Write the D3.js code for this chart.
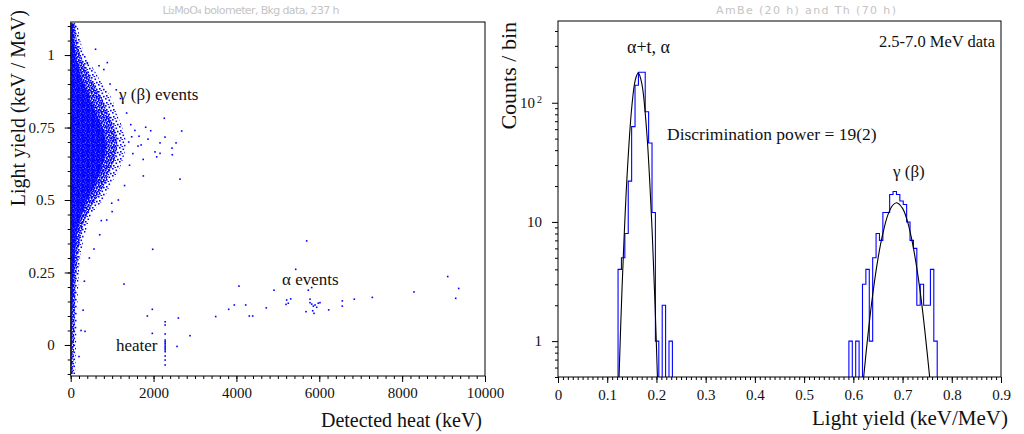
<!DOCTYPE html>
<html>
<head>
<meta charset="utf-8">
<title>Li2MoO4 light yield</title>
<script src="https://cdn.jsdelivr.net/npm/d3@7"></script>
<style>
  body { margin: 0; background: #fff; }
  svg { display: block; }
  text { font-family: "Liberation Serif", "Times New Roman", serif; fill: #111; }
  .pad-title { font-family: "DejaVu Sans", sans-serif; font-size: 11px; fill: #c4c4c4; }
</style>
</head>
<body>
<script>
// ---------- left panel: light yield vs heat (scatter) ----------
// envelope of the dense gamma(beta) band
const cloudLY   = [-0.1, 0, 0.1, 0.2, 0.3, 0.4, 0.45, 0.5, 0.55, 0.6, 0.65, 0.7, 0.75, 0.8, 0.85, 0.9, 0.95, 1.0, 1.05, 1.11];
const outerHeat = [110, 130, 150, 180, 230, 380, 500, 780, 950, 1150, 1280, 1330, 1250, 1100, 990, 760, 560, 350, 230, 170];
const midHeat   = [60, 80, 100, 120, 170, 280, 400, 600, 800, 950, 1080, 1120, 1050, 900, 750, 560, 380, 240, 150, 110];
const coreHeat  = [20, 30, 40, 60, 100, 170, 260, 400, 580, 720, 820, 850, 760, 620, 460, 320, 200, 120, 80, 60];

// isolated events (heat keV, light yield keV/MeV)
const gammaOutHeat = [884, 683, 401, 2259, 2679, 1810, 1931, 1472, 2452, 2638, 1979, 562, 1753, 2076, 2156, 990, 869, 739,
  1625, 2156, 2446, 2543, 1866, 2276, 2035, 1287, 345, 1500, 1420, 1550, 1350, 1200, 1100, 950, 1300, 1150, 1650, 1700,
  1400, 1450, 1750, 800, 600, 1000, 700, 450, 330, 300, 250, 200];
const gammaOutLY = [0.974, 0.963, 0.971, 0.782, 0.738, 0.751, 0.739, 0.718, 0.656, 0.572, 0.33, 0.331, 0.583, 0.649, 0.661, 0.489, 0.431, 0.429,
  0.686, 0.697, 0.679, 0.697, 0.71, 0.717, 0.666, 0.21, 0.047, 0.66, 0.62, 0.74, 0.8, 0.85, 0.88, 0.9, 0.55, 0.5, 0.72, 0.69,
  0.7, 0.76, 0.64, 0.95, 1.02, 0.46, 0.38, 0.3, 0.22, 0.12, 0.05, -0.04];
const alphaHeat = [5696, 5431, 4062, 4907, 5817, 5735, 3949, 3813, 3500, 4224, 4311, 4393, 4721, 5213, 5310, 5252, 5197,
  5776, 5817, 5856, 5897, 5976, 6017, 5776, 5679, 5841, 5873, 5938, 6227, 6556, 6556, 6845, 7280, 8286, 9100, 9365, 9293,
  2880, 1970, 1850, 1970, 2598, 2566];
const alphaLY = [0.359, 0.261, 0.203, 0.189, 0.198, 0.189, 0.138, 0.123, 0.098, 0.138, 0.1, 0.1, 0.128, 0.155, 0.159, 0.144, 0.14,
  0.158, 0.141, 0.134, 0.138, 0.144, 0.146, 0.146, 0.115, 0.118, 0.109, 0.13, 0.121, 0.152, 0.134, 0.158, 0.164, 0.183, 0.236, 0.195, 0.161,
  0.032, 0.123, 0.1, 0.04, 0.093, -0.005];
const heaterHeat = 2280;
const heaterLY = [0.08, 0.069, 0.038, 0.017, 0.011, 0.006, 0, -0.006, -0.011, -0.017, -0.023, -0.038, -0.052, -0.069];

// ---------- right panel: light yield histogram ----------
const binWidth = 0.0069;
const alphaStart = 0.122;
const alphaCounts = [4, 5, 8, 22, 63, 140, 180, 180, 84, 46, 12, 1, 0, 2, 0, 1];
const gammaStart = 0.591;
const gammaCounts = [1, 0, 1, 0, 3, 4, 1, 5, 8, 7, 12, 12, 17, 18, 17, 15, 14, 10, 7, 6, 2, 3, 2, 2, 4, 1];
// gaussian fit curves
const alphaFitX = [0.124, 0.13, 0.14, 0.15, 0.157, 0.163, 0.17, 0.18, 0.19, 0.197, 0.202];
const alphaFitY = [0.5, 2.7, 23, 93, 155, 178, 147, 59, 10.8, 2.1, 0.5];
const gammaFitX = [0.621, 0.63, 0.64, 0.65, 0.66, 0.67, 0.68, 0.688, 0.70, 0.71, 0.72, 0.73, 0.74, 0.75, 0.755];
const gammaFitY = [0.5, 1.16, 2.57, 4.9, 8.0, 11.4, 13.8, 14.5, 13.0, 10.1, 6.7, 3.85, 1.9, 0.8, 0.5];

const svg = d3.select('body').append('svg')
  .attr('width', 1024).attr('height', 434);
svg.append('rect').attr('width', 1024).attr('height', 434).attr('fill', '#fff');

// dot textures for the dense band
const defs = svg.append('defs');
function dotPattern(id, size, dots) {
  const p = defs.append('pattern').attr('id', id)
    .attr('patternUnits', 'userSpaceOnUse').attr('width', size).attr('height', size);
  dots.forEach(d => p.append('rect').attr('x', d[0]).attr('y', d[1])
    .attr('width', 1.6).attr('height', 1.6).attr('fill', '#0000ff'));
}
dotPattern('sparse', 7, [[0, 0], [3.5, 1.5], [1, 4], [5, 4.8], [2.5, 6]]);
dotPattern('mid', 5, [[0, 0], [2, 1], [4, 2], [1, 3], [3, 4], [0.5, 2], [3, 0]]);
dotPattern('dense', 5, [[0, 0], [1.6, 0], [3.2, 0.4], [0.8, 1.6], [2.6, 1.8], [4, 2], [0, 3.2], [1.7, 3.4], [3.3, 3.6], [2.4, 0.9]]);

// ---------- left panel ----------
const L = { left: 70.7, right: 485, top: 22, bottom: 376 };
const xL = d3.scaleLinear().domain([0, 10000]).range([L.left, L.right]);
const yL = d3.scaleLinear().domain([-0.107, 1.114]).range([L.bottom, L.top]);

svg.append('clipPath').attr('id', 'clipL').append('rect')
  .attr('x', L.left).attr('y', L.top).attr('width', L.right - L.left).attr('height', L.bottom - L.top);
const gL = svg.append('g').attr('clip-path', 'url(#clipL)');

const band = cloudLY.map((ly, i) => ({ ly, outer: outerHeat[i], mid: midHeat[i], core: coreHeat[i] }));
[['outer', 'sparse'], ['mid', 'mid'], ['core', 'dense']].forEach(([key, pat]) => {
  gL.append('path')
    .datum(band)
    .attr('fill', `url(#${pat})`)
    .attr('d', d3.area()
      .curve(d3.curveCatmullRom)
      .y(d => yL(d.ly))
      .x0(xL(0))
      .x1(d => xL(d[key])));
});

const points = [];
gammaOutHeat.forEach((h, i) => points.push([h, gammaOutLY[i]]));
alphaHeat.forEach((h, i) => points.push([h, alphaLY[i]]));
heaterLY.forEach(ly => points.push([heaterHeat, ly]));
gL.selectAll('.pt').data(points).enter().append('rect')
  .attr('class', 'pt')
  .attr('x', d => xL(d[0]) - 0.8)
  .attr('y', d => yL(d[1]) - 0.8)
  .attr('width', 1.6).attr('height', 1.6)
  .attr('fill', '#0000ff');

// axes (ROOT style, outward ticks)
function styleAxis(g) {
  g.select('.domain').remove();
  g.attr('font-family', 'Liberation Serif').attr('font-size', 15);
  g.selectAll('text').attr('fill', '#111');
}
svg.append('g').attr('transform', `translate(0,${L.bottom})`)
  .call(d3.axisBottom(xL).tickValues(d3.range(0, 10001, 200)).tickSize(3).tickFormat(''))
  .call(styleAxis);
svg.append('g').attr('transform', `translate(0,${L.bottom})`)
  .call(d3.axisBottom(xL).tickValues(d3.range(0, 10001, 2000)).tickSize(6).tickPadding(5).tickFormat(d3.format('d')))
  .call(styleAxis);
svg.append('g').attr('transform', `translate(${L.left},0)`)
  .call(d3.axisLeft(yL).tickValues(d3.range(-0.1, 1.101, 0.05)).tickSize(3).tickFormat(''))
  .call(styleAxis);
svg.append('g').attr('transform', `translate(${L.left},0)`)
  .call(d3.axisLeft(yL).tickValues([0, 0.25, 0.5, 0.75, 1]).tickSize(6).tickPadding(10).tickFormat(d => d3.format('~g')(d)))
  .call(styleAxis);
svg.append('rect').attr('x', L.left).attr('y', L.top)
  .attr('width', L.right - L.left).attr('height', L.bottom - L.top)
  .attr('fill', 'none').attr('stroke', '#000').attr('stroke-width', 1);

svg.append('text').attr('class', 'pad-title').attr('x', 251).attr('y', 14)
  .attr('text-anchor', 'middle').attr('textLength', 177).attr('lengthAdjust', 'spacing')
  .text('Li₂MoO₄ bolometer, Bkg data, 237 h');
svg.append('text').attr('transform', 'translate(25,10) rotate(-90)')
  .attr('text-anchor', 'end').style('font-size', '20px').text('Light yield (keV / MeV)');
svg.append('text').attr('x', 482).attr('y', 427)
  .attr('text-anchor', 'end').style('font-size', '20px').text('Detected heat (keV)');
svg.append('text').attr('x', 119).attr('y', 100).style('font-size', '17px').text('γ (β) events');
svg.append('text').attr('x', 282).attr('y', 285).style('font-size', '17px').text('α events');
svg.append('text').attr('x', 116).attr('y', 351).style('font-size', '17px').text('heater');

// ---------- right panel ----------
const R = { left: 558, right: 1001, top: 21, bottom: 377 };
const xR = d3.scaleLinear().domain([0, 0.9]).range([R.left, R.right]);
const yR = d3.scaleLog().domain([0.5, 485]).range([R.bottom, R.top]);

svg.append('clipPath').attr('id', 'clipR').append('rect')
  .attr('x', R.left).attr('y', R.top).attr('width', R.right - R.left).attr('height', R.bottom - R.top);
const gR = svg.append('g').attr('clip-path', 'url(#clipR)');

function stepPoints(start, counts) {
  const yc = c => c > 0 ? yR(c) : R.bottom + 2;
  const pts = [[xR(start), R.bottom + 2]];
  counts.forEach((c, i) => {
    pts.push([xR(start + i * binWidth), yc(c)]);
    pts.push([xR(start + (i + 1) * binWidth), yc(c)]);
  });
  pts.push([xR(start + counts.length * binWidth), R.bottom + 2]);
  return pts;
}
[[alphaStart, alphaCounts], [gammaStart, gammaCounts]].forEach(([s, c]) => {
  gR.append('path')
    .attr('d', d3.line()(stepPoints(s, c)))
    .attr('fill', 'none').attr('stroke', '#0000ff').attr('stroke-width', 1.1);
});
[[alphaFitX, alphaFitY], [gammaFitX, gammaFitY]].forEach(([fx, fy]) => {
  gR.append('path')
    .datum(fx.map((x, i) => [x, fy[i]]))
    .attr('fill', 'none').attr('stroke', '#000').attr('stroke-width', 1.1)
    .attr('d', d3.line().curve(d3.curveCatmullRom).x(d => xR(d[0])).y(d => yR(d[1])));
});

const minorX = d3.range(0, 91).map(i => i / 100);
svg.append('g').attr('transform', `translate(0,${R.bottom})`)
  .call(d3.axisBottom(xR).tickValues(minorX).tickSize(3).tickFormat(''))
  .call(styleAxis);
svg.append('g').attr('transform', `translate(0,${R.bottom})`)
  .call(d3.axisBottom(xR).tickValues(d3.range(0, 10).map(i => i / 10)).tickSize(6).tickPadding(6)
    .tickFormat(d => d3.format('~g')(d)))
  .call(styleAxis);

const minorY = [];
[0.1, 1, 10, 100].forEach(dec => d3.range(2, 10).forEach(k => {
  const v = dec * k;
  if (v >= 0.5 && v <= 485) minorY.push(v);
}));
svg.append('g').attr('transform', `translate(${R.left},0)`)
  .call(d3.axisLeft(yR).tickValues(minorY).tickSize(3).tickFormat(''))
  .call(styleAxis);
svg.append('g').attr('transform', `translate(${R.left},0)`)
  .call(d3.axisLeft(yR).tickValues([1, 10, 100]).tickSize(6).tickPadding(10).tickFormat(d => d === 100 ? '10' : d))
  .call(styleAxis)
  .selectAll('text').filter(d => d === 100)
  .each(function () {
    d3.select(this).append('tspan').attr('dy', '-0.55em').attr('dx', '2').style('font-size', '10px').text('2');
  });
svg.append('rect').attr('x', R.left).attr('y', R.top)
  .attr('width', R.right - R.left).attr('height', R.bottom - R.top)
  .attr('fill', 'none').attr('stroke', '#000').attr('stroke-width', 1);

svg.append('text').attr('class', 'pad-title').attr('x', 806).attr('y', 14)
  .attr('text-anchor', 'middle').attr('textLength', 180).attr('lengthAdjust', 'spacing')
  .text('AmBe (20 h) and Th (70 h)');
svg.append('text').attr('transform', 'translate(516,22) rotate(-90)')
  .attr('text-anchor', 'end').style('font-size', '22px').text('Counts / bin');
svg.append('text').attr('x', 1008).attr('y', 425)
  .attr('text-anchor', 'end').style('font-size', '21px').text('Light yield (keV/MeV)');
svg.append('text').attr('x', 627).attr('y', 53).style('font-size', '18px').text('α+t, α');
svg.append('text').attr('x', 995).attr('y', 47).attr('text-anchor', 'end').style('font-size', '16.5px').text('2.5-7.0 MeV data');
svg.append('text').attr('x', 667).attr('y', 140).style('font-size', '17.5px').text('Discrimination power = 19(2)');
svg.append('text').attr('x', 893).attr('y', 177).style('font-size', '17px').text('γ (β)');
</script>
</body>
</html>
